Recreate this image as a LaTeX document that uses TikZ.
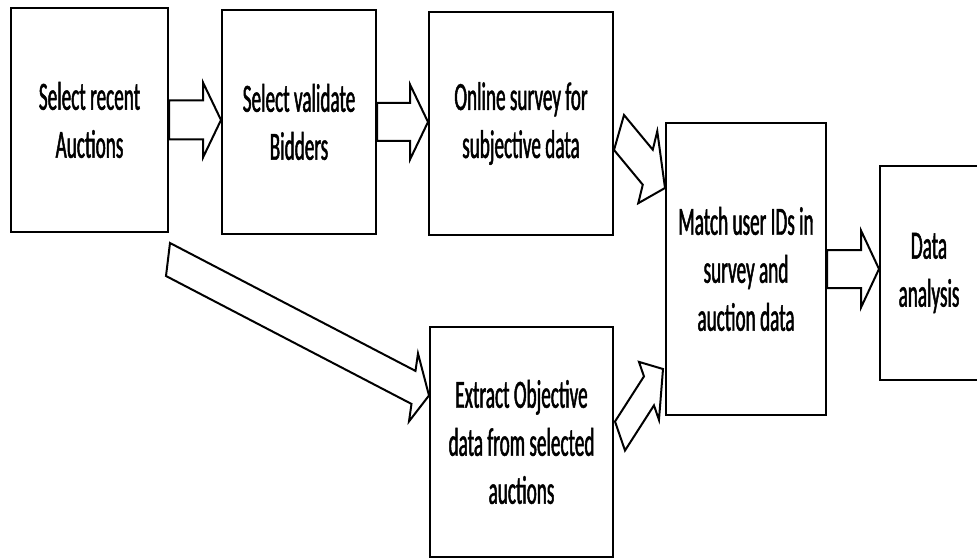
\documentclass[tikz,border=0pt]{standalone}
\usepackage{fontspec}
\setmainfont{Carlito}[FakeStretch=0.48,FakeBold=1.2]
\usetikzlibrary{calc}
\begin{document}
\begin{tikzpicture}[x=1pt,y=-1pt,
  box/.style={draw, line width=2pt, inner sep=0pt, align=center,
    font=\fontsize{40}{48}\selectfont},
  barrow/.style n args={3}{draw, line width=2pt, line join=miter,
    to path={let \p1=(\tikztostart), \p2=(\tikztotarget),
      \p3=($(\tikztotarget)!#2!(\tikztostart)$), \p4=(#1), \p5=(#3) in
      ({\x1+\x4},{\y1+\y4}) -- ({\x3+\x4},{\y3+\y4}) -- ({\x3+\x5},{\y3+\y5})
      -- (\p2) -- ({\x3-\x5},{\y3-\y5}) -- ({\x3-\x4},{\y3-\y4})
      -- ({\x1-\x4},{\y1-\y4}) -- cycle}}]
\useasboundingbox (0,0) rectangle (977,559);

\node[box, minimum width=157pt, minimum height=224pt] (b1) at (89.5,120) {Select recent\\Auctions};
\node[box, minimum width=154pt, minimum height=224pt] (b2) at (299,122) {Select validate\\Bidders};
\node[box, minimum width=184pt, minimum height=223pt] (b3) at (521,123.5) {Online survey for\\subjective data};
\node[box, minimum width=183pt, minimum height=230pt] (b4) at (521.5,442) {Extract Objective\\data from selected\\auctions};
\node[box, minimum width=160pt, minimum height=292pt] (b5) at (746,269) {Match user IDs in\\survey and\\auction data};
\node[box, minimum width=98pt, minimum height=214pt] (b6) at (929,273) {Data\\analysis};

\draw[barrow={0,-19.5}{18pt}{0,-37.5}] (b1.east) to (b1.east -| b2.west);
\draw[barrow={0,-19}{18pt}{0,-37.5}] (b2.east) to (b2.east -| b3.west);
\draw[barrow={5,-17.5}{27pt}{9.5,-36}] ([shift={(5,9)}]b3.east) to ([shift={(0,-81)}]b5.west);
\draw[barrow={2,-16.5}{17.5pt}{4.5,-34}] ([shift={(-1,26.5)}]b1.south east) to ([shift={(0,-46.5)}]b4.west);
\draw[barrow={-5,-14.5}{26pt}{-10,-29}] ([shift={(6,-6)}]b4.east) to ([shift={(-2,100)}]b5.west);
\draw[barrow={0,-19}{18pt}{0,-38.5}] (b5.east) to (b5.east -| b6.west);
\end{tikzpicture}
\end{document}
